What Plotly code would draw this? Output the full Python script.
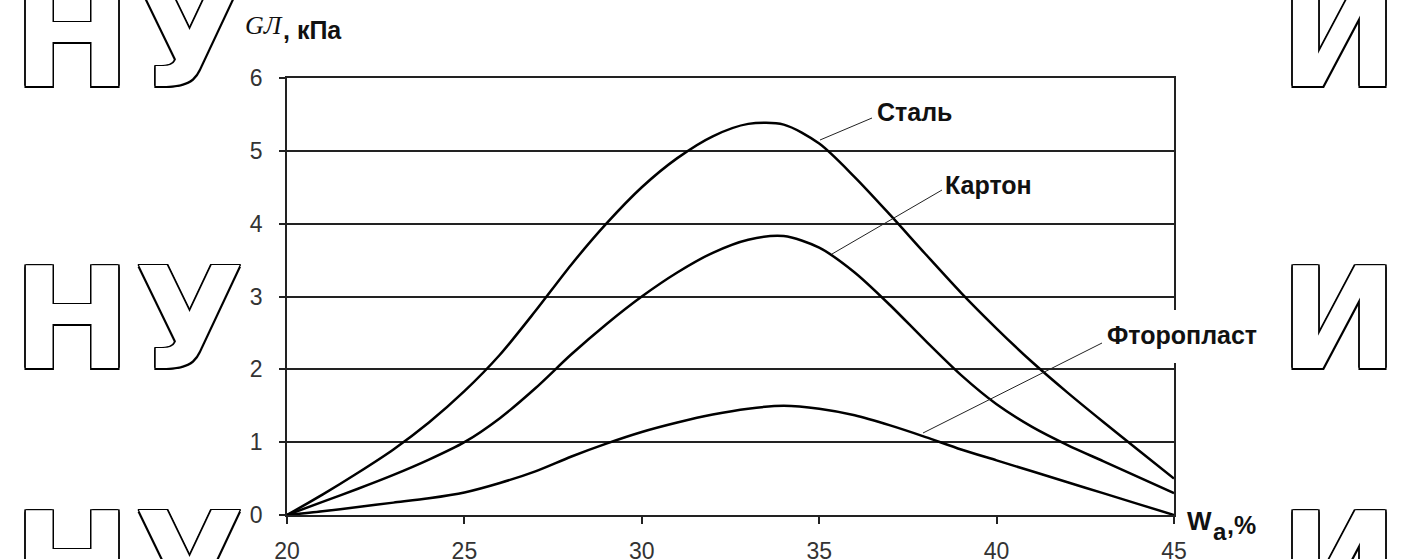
import plotly.graph_objects as go

# ---- data ----
W_a = [20, 21, 22, 23, 24, 25, 26, 27, 28, 29, 30, 31, 32, 33, 34, 35, 36, 37, 38, 39, 40, 41, 42, 43, 44, 45]
steel = [0, 0.28, 0.58, 0.9, 1.27, 1.7, 2.2, 2.8, 3.43, 4.0, 4.5, 4.9, 5.2, 5.37, 5.36, 5.1, 4.64, 4.12, 3.58, 3.05, 2.56, 2.1, 1.68, 1.28, 0.89, 0.5]
carton = [0, 0.18, 0.36, 0.55, 0.76, 1.0, 1.33, 1.74, 2.2, 2.62, 3.0, 3.33, 3.6, 3.78, 3.83, 3.67, 3.33, 2.88, 2.39, 1.92, 1.52, 1.21, 0.96, 0.74, 0.52, 0.3]
ftoroplast = [0, 0.05, 0.11, 0.17, 0.23, 0.31, 0.44, 0.6, 0.8, 0.98, 1.14, 1.27, 1.38, 1.46, 1.5, 1.46, 1.37, 1.23, 1.07, 0.9, 0.75, 0.6, 0.45, 0.3, 0.15, 0.0]
series_names = ["Сталь", "Картон", "Фторопласт"]
x_ticks = [20, 25, 30, 35, 40, 45]
y_ticks = [0, 1, 2, 3, 4, 5, 6]

# ---- geometry (pixels) ----
W, H = 1410, 559
L, R, T, B = 287, 1174, 78, 515


def px(x):
    return (x - L) / (R - L)


def py(y):
    return (B - y) / (B - T)


fig = go.Figure()
for name, vals in zip(series_names, [steel, carton, ftoroplast]):
    fig.add_trace(go.Scatter(x=W_a, y=vals, mode="lines", name=name,
                             line=dict(color="black", width=2.5, shape="spline", smoothing=0.8),
                             showlegend=False, hoverinfo="skip"))

annotations = []
shapes = []

# watermark letters (outlined)
outline = ("-1.5px -1.5px 0 #000, 1.5px -1.5px 0 #000, -1.5px 1.5px 0 #000, 1.5px 1.5px 0 #000, "
           "0 -1.5px 0 #000, 0 1.5px 0 #000, -1.5px 0 0 #000, 1.5px 0 0 #000")
wm_font = dict(family="DejaVu Sans", size=141, color="white", weight="bold", shadow=outline)
for cy in [37, 319, 564]:
    for ch, cx in [("Н", 72), ("У", 189), ("И", 1339)]:
        annotations.append(dict(text=ch, x=px(cx), y=py(cy), xref="paper", yref="paper",
                                xanchor="center", yanchor="middle", showarrow=False, font=wm_font))

# leader lines
leaders = [((820, 140), (872, 118)), ((832, 254), (942, 190)), ((923, 433), (1102, 343))]
for (x0, y0), (x1, y1) in leaders:
    shapes.append(dict(type="line", xref="paper", yref="paper", x0=px(x0), y0=py(y0), x1=px(x1), y1=py(y1),
                       line=dict(color="#222", width=1)))

# white gap on the right border behind "Фторопласт"
shapes.append(dict(type="rect", xref="paper", yref="paper", x0=px(1104), x1=px(1268), y0=py(363), y1=py(310),
                   fillcolor="white", line=dict(width=0), layer="above"))

lab_font = dict(family="Liberation Sans, Arial", size=25, color="#111", weight="bold")
for name, (lx, ly) in zip(series_names, [(875, 112), (943, 185), (1105, 335)]):
    annotations.append(dict(text=name, x=px(lx), y=py(ly), xref="paper", yref="paper",
                            xanchor="left", yanchor="middle", showarrow=False, font=lab_font))

# axis titles
annotations.append(dict(text="<i>GЛ</i>", x=px(243), y=py(26), xref="paper", yref="paper",
                        xanchor="left", yanchor="middle", showarrow=False,
                        font=dict(family="Liberation Serif, Times New Roman", size=26, color="#111")))
annotations.append(dict(text=", кПа", x=px(281), y=py(30), xref="paper", yref="paper",
                        xanchor="left", yanchor="middle", showarrow=False,
                        font=dict(family="Liberation Sans, Arial", size=25, color="#111", weight="bold")))
annotations.append(dict(text="W", x=px(1185), y=py(521), xref="paper", yref="paper",
                        xanchor="left", yanchor="middle", showarrow=False,
                        font=dict(family="Liberation Sans, Arial", size=26, color="#111", weight="bold")))
annotations.append(dict(text="a", x=px(1211), y=py(531), xref="paper", yref="paper",
                        xanchor="left", yanchor="middle", showarrow=False,
                        font=dict(family="Liberation Sans, Arial", size=24, color="#111", weight="bold")))
annotations.append(dict(text=",%", x=px(1225), y=py(525), xref="paper", yref="paper",
                        xanchor="left", yanchor="middle", showarrow=False,
                        font=dict(family="Liberation Sans, Arial", size=25, color="#111", weight="bold")))

tick_font = dict(family="Liberation Sans, Arial", size=23, color="#333")
fig.update_layout(
    width=W, height=H,
    margin=dict(l=L, r=W - R, t=T, b=H - B, pad=0, autoexpand=False),
    paper_bgcolor="white", plot_bgcolor="white",
    showlegend=False,
    xaxis=dict(range=[20, 45], tickvals=x_ticks, ticks="outside", ticklen=7, tickwidth=1.5,
               tickcolor="#222", showline=True, linecolor="#222", linewidth=1.5, mirror=True,
               showgrid=False, zeroline=False, tickfont=tick_font, ticklabelstandoff=8,
               automargin=False),
    yaxis=dict(range=[0, 6], tickvals=y_ticks, ticks="outside", ticklen=6, tickwidth=1.5,
               tickcolor="#222", showline=True, linecolor="#222", linewidth=1.5, mirror=True,
               showgrid=True, gridcolor="#222", gridwidth=1.5, zeroline=False,
               tickfont=tick_font, ticklabelstandoff=12, automargin=False),
    annotations=annotations,
    shapes=shapes,
)

fig.write_html("out.html")
